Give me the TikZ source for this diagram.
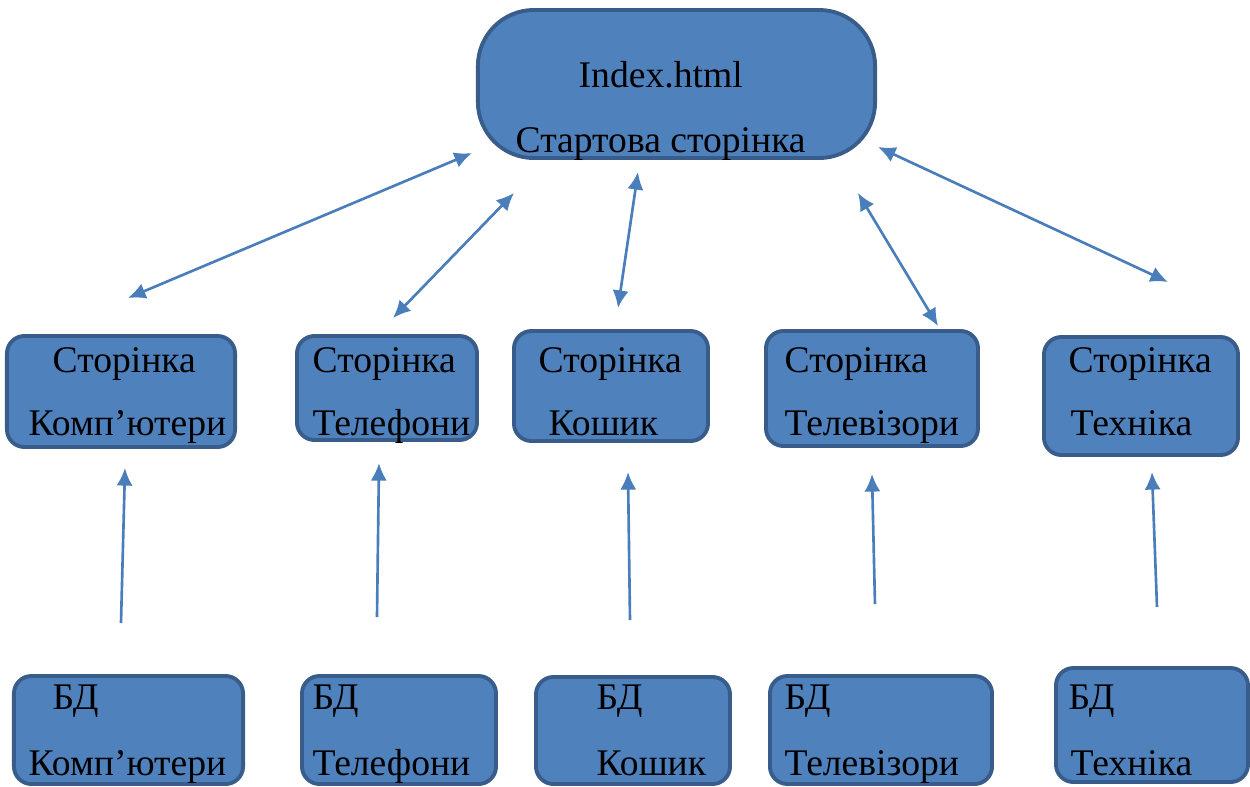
\documentclass[tikz,border=0pt]{standalone}
\usepackage{fontspec}
\setmainfont{Liberation Serif}
\usetikzlibrary{arrows.meta}
\definecolor{myblue}{RGB}{79, 129, 189}
\definecolor{myblue2}{RGB}{56, 93, 138}
\definecolor{myarrow}{RGB}{74, 126, 187}
\tikzset{>={Latex[length=5pt, width=4.6pt]}}
\tikzset{pagebox/.style = {draw = myblue2, fill = myblue, line width = 1.1pt, rounded corners = 5pt, inner sep = 0pt},
  txt/.style = {anchor = base west, inner sep = 0pt, font = \fontsize{10.7}{12}\selectfont},
  link/.style = {myarrow, line width = 0.75pt}}

\begin{document}
\begin{tikzpicture}[x = 0.01cm, y = -0.01cm]
\useasboundingbox (0, 0) rectangle (1250, 787);

% start page
\node[pagebox, rounded corners = 0.56cm, minimum width = 3.97cm, minimum height = 1.48cm] (index) at (676.5, 84) {};
\node[txt] (indexa) at (578, 87) {Index.html};
\node[txt] (indexb) at (515, 152) {Стартова сторінка};

% pages
\node[pagebox, minimum width = 2.28cm, minimum height = 1.11cm] (pc) at (121, 391.5) {};
\node[pagebox, minimum width = 1.80cm, minimum height = 1.04cm] (tel) at (387, 388) {};
\node[pagebox, minimum width = 1.94cm, minimum height = 1.10cm] (cart) at (611, 386) {};
\node[pagebox, minimum width = 2.12cm, minimum height = 1.15cm] (tv) at (872, 388.5) {};
\node[pagebox, minimum width = 1.94cm, minimum height = 1.18cm] (tech) at (1141, 396) {};
\node[txt] (pca) at (52, 372) {Сторінка};
\node[txt] (pcb) at (28, 435) {Комп’ютери};
\node[txt] (tela) at (312, 372) {Сторінка};
\node[txt] (telb) at (312, 435) {Телефони};
\node[txt] (carta) at (538, 372) {Сторінка};
\node[txt] (cartb) at (548, 435) {Кошик};
\node[txt] (tva) at (784, 372) {Сторінка};
\node[txt] (tvb) at (784, 435) {Телевізори};
\node[txt] (techa) at (1068, 372) {Сторінка};
\node[txt] (techb) at (1070, 435) {Техніка};

% databases
\node[pagebox, minimum width = 2.29cm, minimum height = 1.08cm] (dbpc) at (128.5, 730) {};
\node[pagebox, minimum width = 1.94cm, minimum height = 1.08cm] (dbtel) at (399, 730) {};
\node[pagebox, minimum width = 1.94cm, minimum height = 1.07cm] (dbcart) at (633, 730.5) {};
\node[pagebox, minimum width = 2.22cm, minimum height = 1.08cm] (dbtv) at (881, 730) {};
\node[pagebox, minimum width = 1.92cm, minimum height = 1.14cm] (dbtech) at (1152, 725) {};
\node[txt] (dbpca) at (52, 709) {БД};
\node[txt] (dbpcb) at (28, 775) {Комп’ютери};
\node[txt] (dbtela) at (312, 709) {БД};
\node[txt] (dbtelb) at (312, 775) {Телефони};
\node[txt] (dbcarta) at (596, 709) {БД};
\node[txt] (dbcartb) at (596, 775) {Кошик};
\node[txt] (dbtva) at (784, 709) {БД};
\node[txt] (dbtvb) at (784, 775) {Телевізори};
\node[txt] (dbtecha) at (1068, 709) {БД};
\node[txt] (dbtechb) at (1070, 775) {Техніка};

% links between start page and pages
\coordinate (t1) at (472, 153); \coordinate (m1) at (128, 298);
\coordinate (t2) at (514, 193); \coordinate (m2) at (393, 318);
\coordinate (t3) at (638, 172); \coordinate (m3) at (618, 308);
\coordinate (t4) at (858, 193); \coordinate (m4) at (938, 326);
\coordinate (t5) at (878, 147); \coordinate (m5) at (1168, 282);
\draw[link, <->] (t1) -- (m1);
\draw[link, <->] (t2) -- (m2);
\draw[link, <->] (t3) -- (m3);
\draw[link, <->] (t4) -- (m4);
\draw[link, <->] (t5) -- (m5);

% links from databases
\coordinate (d1) at (121, 623); \coordinate (u1) at (125, 468);
\coordinate (d2) at (377, 617); \coordinate (u2) at (379, 463);
\coordinate (d3) at (630, 620); \coordinate (u3) at (628, 472);
\coordinate (d4) at (875, 604); \coordinate (u4) at (872, 474);
\coordinate (d5) at (1157, 607); \coordinate (u5) at (1152, 472);
\draw[link, ->] (d1) -- (u1);
\draw[link, ->] (d2) -- (u2);
\draw[link, ->] (d3) -- (u3);
\draw[link, ->] (d4) -- (u4);
\draw[link, ->] (d5) -- (u5);
\end{tikzpicture}
\end{document}
